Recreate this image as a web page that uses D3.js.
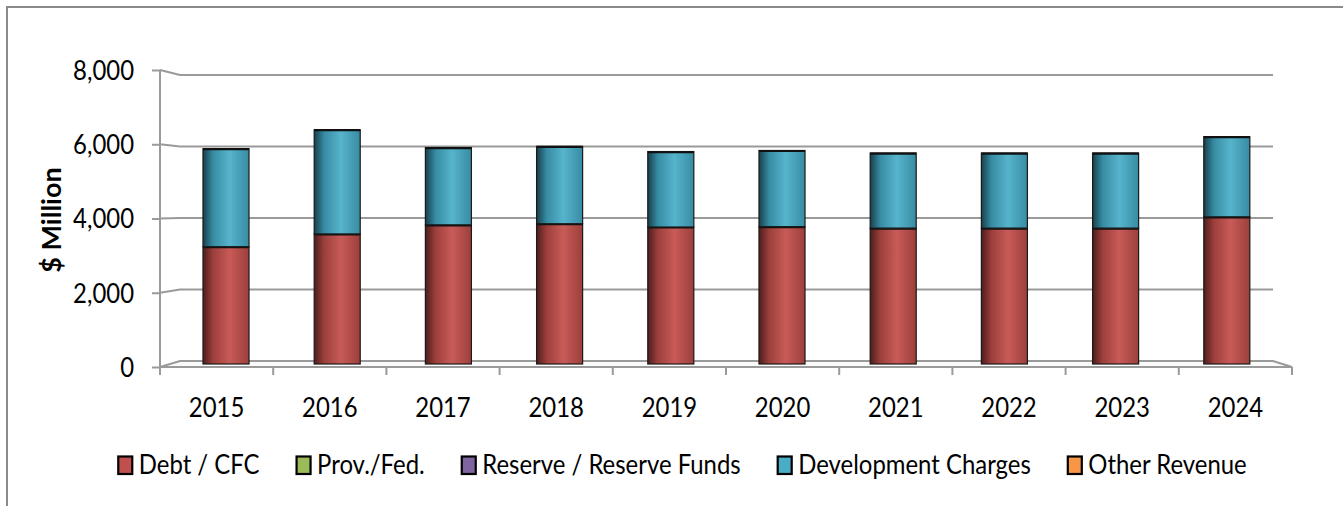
<!DOCTYPE html>
<html>
<head>
<meta charset="utf-8">
<script src="https://cdn.jsdelivr.net/npm/d3@7"></script>
<style>
  html, body { margin: 0; padding: 0; background: #fff; }
  svg { display: block; }
  text { font-family: Lato, "Open Sans", sans-serif; fill: #000; }
</style>
</head>
<body>
<svg id="chart" width="1343" height="506"></svg>
<script>
// ---- data ----
const categories = ['2015','2016','2017','2018','2019','2020','2021','2022','2023','2024'];
const debtCFC      = [3220, 3570, 3820, 3850, 3760, 3770, 3730, 3730, 3730, 4040];
const provFed      = [0, 0, 0, 0, 0, 0, 0, 0, 0, 0];
const reserveFunds = [0, 0, 0, 0, 0, 0, 0, 0, 0, 0];
const devCharges   = [2690, 2860, 2120, 2120, 2070, 2090, 2060, 2060, 2060, 2200];
const otherRevenue = [0, 0, 0, 0, 0, 0, 0, 0, 0, 0];
const seriesNames  = ['Debt / CFC', 'Prov./Fed.', 'Reserve / Reserve Funds', 'Development Charges', 'Other Revenue'];
const yTicks       = [0, 2000, 4000, 6000, 8000];
const yTitle       = '$ Million';

// ---- styles ----
const colors = ['#C0504D', '#9BBB59', '#8064A2', '#4BACC6', '#F79646'];
const darkC  = ['#4e1d1c', '#4d5f2a', '#3e2f52', '#183f4c', '#7a4417'];
const lightC = ['#c85b57', '#a9c86a', '#8f74b0', '#56b4cc', '#f9a35c'];
const midC   = ['#9c3f3c', '#83a04a', '#6c528c', '#378ca3', '#d47f38'];
const SX = 0.92;           // horizontal squeeze to mimic the narrow original face
const FS = 26;             // font size px
const gridColor = '#9a9a9a';

const svg = d3.select('#chart');

// outer frame
svg.append('rect').attr('x', 7).attr('y', 7).attr('width', 1400).attr('height', 600)
  .attr('fill', 'none').attr('stroke', '#8a8a8a').attr('stroke-width', 2);

// gradients
const defs = svg.append('defs');
colors.forEach((c, i) => {
  const g = defs.append('linearGradient').attr('id', 'g' + i).attr('x1', '0%').attr('x2', '100%').attr('y1', '0%').attr('y2', '0%');
  g.append('stop').attr('offset', '0%').attr('stop-color', darkC[i]);
  g.append('stop').attr('offset', '22%').attr('stop-color', midC[i]);
  g.append('stop').attr('offset', '58%').attr('stop-color', lightC[i]);
  g.append('stop').attr('offset', '100%').attr('stop-color', midC[i]);
});

// ---- scales (front plane, back wall, mid depth for bars) ----
const yFront = d3.scaleLinear().domain([0, 8000]).range([367, 70]);
const yBack  = d3.scaleLinear().domain([0, 8000]).range([361, 75]);
const yMid   = d3.scaleLinear().domain([0, 8000]).range([364, 72.5]);
const xFront = d3.scaleBand().domain(categories).range([160, 1292]).padding(0);
const xBack  = d3.scaleBand().domain(categories).range([180, 1273]).padding(0);
const xMid   = d3.scaleBand().domain(categories).range([170.4, 1282.4]).paddingInner(0.586).paddingOuter(0.293);

// ---- gridlines on back wall with perspective connectors ----
const grid = svg.append('g');
yTicks.filter(v => v > 0).forEach(v => {
  grid.append('path')
    .attr('d', `M${xFront.range()[0]},${yFront(v)} L${xBack.range()[0]},${yBack(v)} L${xBack.range()[1]},${yBack(v)}`)
    .attr('fill', 'none').attr('stroke', gridColor).attr('stroke-width', 2);
});
// floor
const x0f = xFront.range()[0], x1f = xFront.range()[1], x0b = xBack.range()[0], x1b = xBack.range()[1];
grid.append('path')
  .attr('d', `M${x0f},${yFront(0)} L${x0b},${yBack(0)} L${x1b},${yBack(0)} L${x1f},${yFront(0)} Z`)
  .attr('fill', '#fafafa').attr('stroke', gridColor).attr('stroke-width', 2);

// ---- y axis ----
const yAxis = svg.append('g').attr('transform', `translate(${x0f},0)`)
  .call(d3.axisLeft(yFront).tickValues(yTicks).tickFormat(d3.format(',')).tickSize(8).tickPadding(0));
yAxis.select('.domain').attr('d', `M0,${yFront(8000)}V${yFront(0) + 8}`).attr('stroke', gridColor).attr('stroke-width', 2);
yAxis.selectAll('.tick line').attr('stroke', gridColor).attr('stroke-width', 2);
yAxis.selectAll('.tick text')
  .attr('font-family', 'Lato').attr('font-size', FS)
  .attr('x', -26 / SX).attr('dy', '0.36em')
  .attr('transform', `scale(${SX},1)`);

// y title
svg.append('text')
  .attr('transform', `translate(61,220) rotate(-90)`)
  .attr('text-anchor', 'middle').attr('font-weight', 'bold').attr('font-size', 27)
  .text(yTitle);

// ---- x axis ----
const xAxisG = svg.append('g');
const bounds = categories.map(c => xFront(c)).concat([x1f]);
xAxisG.selectAll('line.tk').data(bounds).join('line')
  .attr('x1', d => d).attr('x2', d => d)
  .attr('y1', yFront(0)).attr('y2', yFront(0) + 8)
  .attr('stroke', gridColor).attr('stroke-width', 2);
xAxisG.selectAll('text').data(categories).join('text')
  .attr('transform', d => `translate(${xFront(d) + xFront.bandwidth() / 2},416.5) scale(${SX},1)`)
  .attr('text-anchor', 'middle').attr('font-size', FS)
  .text(d => d);

// ---- bars ----
const table = categories.map((c, i) => ({
  cat: c, s0: debtCFC[i], s1: provFed[i], s2: reserveFunds[i], s3: devCharges[i], s4: otherRevenue[i]
}));
const stack = d3.stack().keys(['s0', 's1', 's2', 's3', 's4'])(table);
const barsG = svg.append('g');
stack.forEach((layer, li) => {
  layer.forEach(d => {
    if (d[1] - d[0] <= 0) return;
    const x = xMid(d.data.cat), w = xMid.bandwidth();
    const yt = yMid(d[1]), yb = yMid(d[0]);
    barsG.append('rect')
      .attr('x', x).attr('y', yt).attr('width', w).attr('height', yb - yt)
      .attr('fill', `url(#g${li})`).attr('stroke', '#1a1a1a').attr('stroke-width', 1.2);
    barsG.append('line')
      .attr('x1', x).attr('x2', x + w).attr('y1', yt + 0.5).attr('y2', yt + 0.5)
      .attr('stroke', '#111').attr('stroke-width', 2.2);
  });
});

// ---- legend ----
const legend = svg.append('g');
let cursor = 0;
seriesNames.forEach((name, i) => {
  const g = legend.append('g');
  g.append('rect').attr('x', cursor + 1).attr('y', 456.5).attr('width', 14).attr('height', 17.5)
    .attr('fill', colors[i]).attr('stroke', '#000').attr('stroke-width', 2.2);
  const t = g.append('text').attr('font-size', FS)
    .attr('transform', `translate(${cursor + 21.5},474) scale(${SX},1)`).text(name);
  const tw = t.node().getComputedTextLength() * SX;
  cursor += 21.5 + tw + 36;
});
const totalW = cursor - 36;
legend.attr('transform', `translate(${682 - totalW / 2},0)`);
</script>
</body>
</html>
